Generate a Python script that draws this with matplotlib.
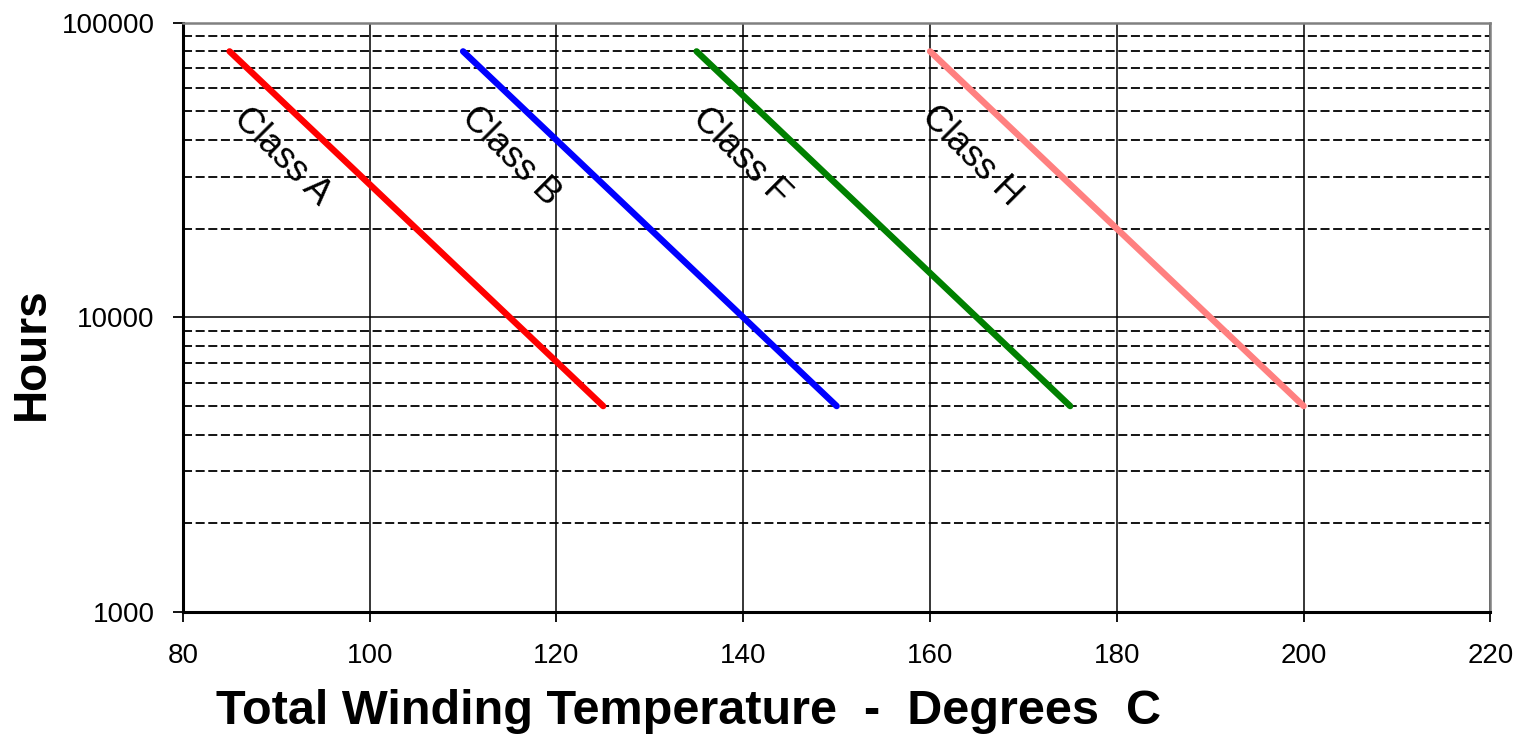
import numpy as np
import matplotlib
matplotlib.use("Agg")
import matplotlib.pyplot as plt
from matplotlib.ticker import FixedLocator, NullFormatter

plt.rcParams['font.family'] = ['Liberation Sans', 'DejaVu Sans']

classes = ['Class A', 'Class B', 'Class F', 'Class H']
temp_start = [85, 110, 135, 160]
temp_end = [125, 150, 175, 200]
hours_start = [80000, 80000, 80000, 80000]
hours_end = [5000, 5000, 5000, 5000]
colors = ['#ff0000', '#0000ff', '#008000', '#ff8080']
label_x = [90.6, 115.1, 139.8, 164.4]
label_y = [35300, 35300, 35300, 35300]

fig = plt.figure(figsize=(15.24, 7.36), dpi=100)
ax = fig.add_axes([0.120, 0.1685, 0.858, 0.8005])

ax.set_yscale('log')
ax.set_xlim(80, 220)
ax.set_ylim(1000, 100000)

for i in range(len(classes)):
    ax.plot([temp_start[i], temp_end[i]], [hours_start[i], hours_end[i]],
            color=colors[i], lw=4.6, solid_capstyle='round', zorder=3)
    ax.text(label_x[i], label_y[i], classes[i], rotation=-45, fontsize=26,
            ha='center', va='center', rotation_mode='anchor', zorder=4)

ax.set_xticks(np.arange(80, 221, 20))
ax.yaxis.set_major_locator(FixedLocator([1000, 10000, 100000]))
ax.set_yticklabels(['1000', '10000', '100000'])
minors = [m * d for d in (1000, 10000) for m in range(2, 10)]
ax.yaxis.set_minor_locator(FixedLocator(minors))
ax.yaxis.set_minor_formatter(NullFormatter())

ax.grid(True, which='major', axis='both', color='black', lw=1.1)
ax.grid(True, which='minor', axis='y', color='black', lw=1.3, ls=(0, (5, 2)))
ax.set_axisbelow(True)

ax.tick_params(axis='both', which='major', direction='out', length=7.5, width=1.3,
               labelsize=20, colors='black')
ax.tick_params(axis='y', which='minor', length=0)
ax.tick_params(axis='x', pad=15)
ax.tick_params(axis='y', pad=13)

for s in ['left', 'bottom']:
    ax.spines[s].set_linewidth(2.2)
    ax.spines[s].set_color('black')
for s in ['top', 'right']:
    ax.spines[s].set_linewidth(1.8)
    ax.spines[s].set_color('#808080')

fig.text(689 / 1524, 1 - 711 / 736, 'Total Winding Temperature  -  Degrees  C',
         fontsize=35, fontweight='bold', ha='center', va='center')
fig.text(32 / 1524, 1 - 354 / 736, 'Hours', fontsize=33, fontweight='bold',
         rotation=90, ha='center', va='center')

fig.savefig('out.png', dpi=100)
